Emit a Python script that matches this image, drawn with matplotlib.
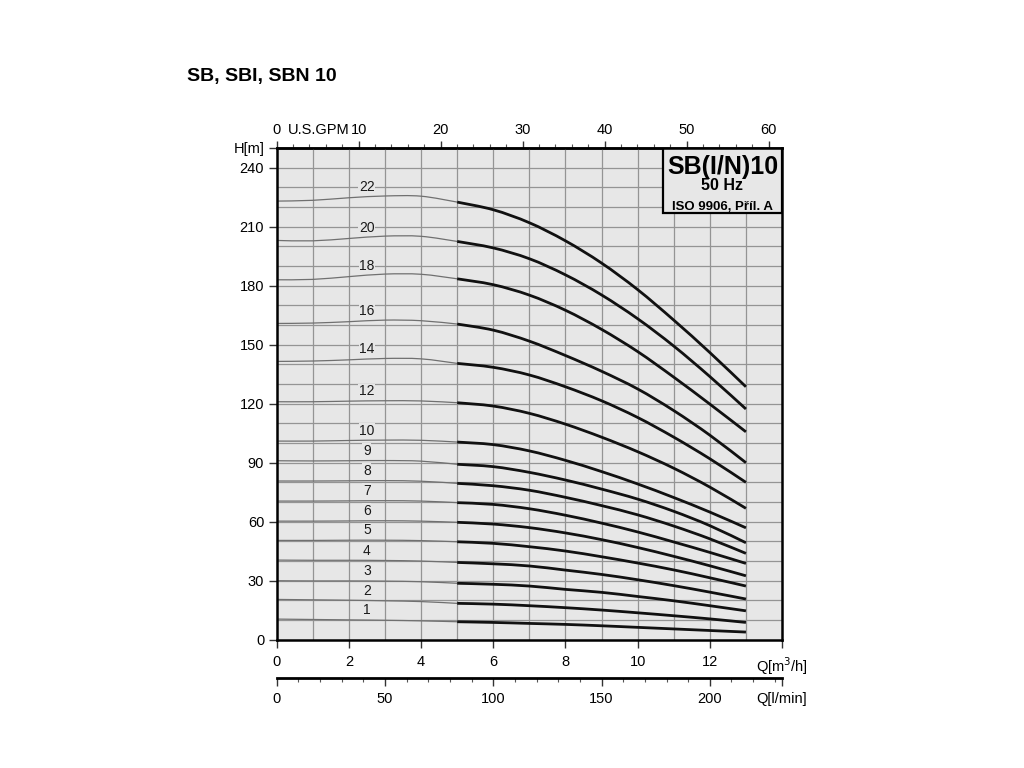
import matplotlib
matplotlib.use('Agg')
import matplotlib.pyplot as plt
from matplotlib.patches import Rectangle, PathPatch
from matplotlib.path import Path
from matplotlib.ticker import MultipleLocator
import numpy as np

plt.rcParams['font.family'] = ['Liberation Sans', 'DejaVu Sans']

# ---------------- data ----------------
stages = [22, 20, 18, 16, 14, 12, 10, 9, 8, 7, 6, 5, 4, 3, 2, 1]

# thin (out of recommended range) part, Q = 0..5 m3/h
q_thin = [0, 1, 2, 3, 4, 5]
thin_heads = [
    [223.0, 223.4, 224.7, 225.6, 225.5, 222.5],
    [203.0, 202.8, 204.0, 205.2, 205.1, 202.5],
    [183.0, 183.2, 184.6, 185.9, 185.8, 183.5],
    [160.8, 161.0, 161.7, 162.5, 162.2, 160.5],
    [141.5, 141.7, 142.3, 143.0, 142.8, 140.5],
    [121.0, 121.0, 121.3, 121.5, 121.4, 120.5],
    [101.0, 101.0, 101.3, 101.5, 101.4, 100.5],
    [91.0, 90.9, 91.0, 91.1, 90.8, 89.2],
    [80.7, 80.7, 80.8, 80.9, 80.6, 79.5],
    [70.5, 70.5, 70.6, 70.7, 70.5, 69.7],
    [60.3, 60.3, 60.4, 60.5, 60.3, 59.7],
    [50.5, 50.5, 50.6, 50.6, 50.4, 49.8],
    [40.5, 40.4, 40.4, 40.3, 40.0, 39.3],
    [30.0, 29.9, 29.9, 29.8, 29.5, 28.7],
    [20.5, 20.3, 20.1, 19.8, 19.4, 18.5],
    [10.5, 10.3, 10.1, 9.9, 9.6, 9.15],
]

# thick (working range) part, Q = 5..13 m3/h
q_thick = [5, 6, 7, 8, 9, 10, 11, 12, 13]
thick_heads = [
    [222.5, 218.6, 212.0, 202.8, 191.5, 178.0, 162.5, 146.0, 128.6],
    [202.5, 199.2, 193.7, 185.5, 175.3, 163.2, 149.3, 133.8, 117.3],
    [183.5, 180.5, 175.2, 167.5, 157.8, 146.5, 133.5, 119.8, 105.7],
    [160.5, 157.4, 151.8, 144.5, 136.5, 127.5, 116.5, 104.0, 90.0],
    [140.5, 138.5, 134.6, 128.6, 121.5, 113.0, 103.0, 92.0, 80.0],
    [120.5, 118.8, 115.1, 109.6, 103.0, 95.6, 87.2, 77.6, 66.8],
    [100.5, 99.2, 96.0, 91.2, 85.5, 79.2, 72.3, 64.9, 56.9],
    [89.2, 88.0, 85.1, 81.2, 76.6, 71.5, 65.3, 58.0, 49.3],
    [79.5, 78.3, 76.0, 72.4, 68.2, 63.5, 57.8, 51.3, 43.9],
    [69.7, 68.8, 66.6, 63.3, 59.3, 54.8, 49.7, 44.4, 38.8],
    [59.7, 58.8, 57.0, 54.3, 50.9, 46.9, 42.4, 37.6, 32.5],
    [49.8, 49.0, 47.3, 45.1, 42.2, 39.0, 35.5, 31.5, 27.3],
    [39.3, 38.6, 37.5, 35.4, 33.2, 30.5, 27.5, 24.2, 20.7],
    [28.7, 28.2, 27.3, 25.6, 24.1, 22.0, 19.8, 17.3, 14.7],
    [18.5, 18.1, 17.3, 16.3, 15.1, 13.7, 12.2, 10.6, 8.8],
    [9.15, 8.8, 8.3, 7.8, 7.1, 6.3, 5.5, 4.7, 3.9],
]

label_q = 2.5
h_ticks = [0, 30, 60, 90, 120, 150, 180, 210, 240]
m3h_ticks = [0, 2, 4, 6, 8, 10, 12]
gpm_ticks = [0, 10, 20, 30, 40, 50, 60]
lmin_ticks = [0, 50, 100, 150, 200]

title = "SB, SBI, SBN 10"
box_lines = ["SB(I/N)10", "50 Hz", "ISO 9906, Příl. A"]


def smooth_curve(ax, xs, ys, **kw):
    """Draw a smooth (Catmull-Rom as Bezier) line through the data points."""
    pts = np.column_stack([xs, ys]).astype(float)
    n = len(pts)
    verts = [tuple(pts[0])]
    codes = [Path.MOVETO]
    for i in range(n - 1):
        p0 = pts[i - 1] if i > 0 else pts[i]
        p1 = pts[i]
        p2 = pts[i + 1]
        p3 = pts[i + 2] if i + 2 < n else pts[i + 1]
        c1 = p1 + (p2 - p0) / 6.0
        c2 = p2 - (p3 - p1) / 6.0
        verts += [tuple(c1), tuple(c2), tuple(p2)]
        codes += [Path.CURVE4] * 3
    patch = PathPatch(Path(verts, codes), fill=False, **kw)
    ax.add_patch(patch)


# ---------------- figure ----------------
fig = plt.figure(figsize=(10.24, 7.68), dpi=100)
fig.patch.set_facecolor('white')
ax = fig.add_axes([0.2702, 0.167, 0.4935, 0.6403])
ax.set_facecolor('#e7e7e7')
ax.set_xlim(0, 14)
ax.set_ylim(0, 250)

grid_c = '#949494'
for x in range(1, 14):
    ax.axvline(x, color=grid_c, lw=0.9, zorder=1)
for y in range(10, 250, 10):
    ax.axhline(y, color=grid_c, lw=0.9, zorder=1)

for st, th, tk in zip(stages, thin_heads, thick_heads):
    smooth_curve(ax, q_thin, th, edgecolor='#707070', lw=0.9, zorder=2)
    smooth_curve(ax, q_thick, tk, edgecolor='#111111', lw=2.0, zorder=3,
                 capstyle='butt')
    hl = np.interp(label_q, q_thin, th)
    ax.annotate(str(st), (label_q, hl), xytext=(0, 7),
                textcoords='offset points', ha='center', va='center',
                fontsize=10, color='#1a1a1a', zorder=4,
                bbox=dict(boxstyle='square,pad=0.05', fc='#e7e7e7', ec='none'))

# legend box
ax.add_patch(Rectangle((0.7645, 0.8678), 0.2355, 0.1322, transform=ax.transAxes,
                       facecolor='#e7e7e7', edgecolor='black', lw=1.6, zorder=5))
ax.text(0.882, 0.962, box_lines[0], transform=ax.transAxes, ha='center',
        va='center', fontsize=18, fontweight='bold', zorder=6)
ax.text(0.882, 0.924, box_lines[1], transform=ax.transAxes, ha='center',
        va='center', fontsize=11.5, fontweight='bold', zorder=6)
ax.text(0.882, 0.879, box_lines[2], transform=ax.transAxes, ha='center',
        va='center', fontsize=9.5, fontweight='bold', zorder=6)

for sp in ax.spines.values():
    sp.set_linewidth(1.8)
    sp.set_color('black')
    sp.set_zorder(7)

# y axis
ax.set_yticks(h_ticks + [250])
ax.set_yticklabels([str(v) for v in h_ticks] + ['H[m]'])
ax.tick_params(axis='y', direction='out', length=6, width=1, pad=3,
               labelsize=10.5, color='#333333')

# bottom m3/h axis
ax.set_xticks(m3h_ticks + [14])
ax.set_xticklabels([str(v) for v in m3h_ticks] + ['Q[m$^3$/h]'])
ax.tick_params(axis='x', direction='out', length=6, width=1, pad=5,
               labelsize=10.5, color='#333333')

# top GPM axis
gpm_per_m3h = 4.402868
top = ax.secondary_xaxis('top', functions=(lambda q: q * gpm_per_m3h,
                                           lambda g: g / gpm_per_m3h))
top.set_xticks(gpm_ticks)
top.xaxis.set_minor_locator(MultipleLocator(2))
top.tick_params(which='major', direction='out', length=5, width=1, pad=3,
                labelsize=10.5, color='#333333')
top.tick_params(which='minor', direction='out', length=3, width=0.8,
                color='#555555')
top.spines['top'].set_linewidth(1.8)
ax.text(0.083, 1.036, 'U.S.GPM', transform=ax.transAxes, ha='center',
        va='center', fontsize=10.5)

# l/min axis below
lmin_per_m3h = 1000.0 / 60.0
low = ax.secondary_xaxis(-0.078, functions=(lambda q: q * lmin_per_m3h,
                                            lambda l: l / lmin_per_m3h))
low.set_xticks(lmin_ticks + [14 * lmin_per_m3h])
low.set_xticklabels([str(v) for v in lmin_ticks] + ['Q[l/min]'])
low.xaxis.set_minor_locator(MultipleLocator(10))
low.tick_params(which='major', direction='out', length=6, width=1, pad=4,
                labelsize=10.5, color='#333333')
low.tick_params(which='minor', direction='out', length=3, width=0.8,
                color='#555555')
low.spines['bottom'].set_linewidth(2.0)

fig.text(187 / 1024, 1 - 76 / 768, title, ha='left', va='center',
         fontsize=14, fontweight='bold')

fig.savefig('out.png', dpi=100)
